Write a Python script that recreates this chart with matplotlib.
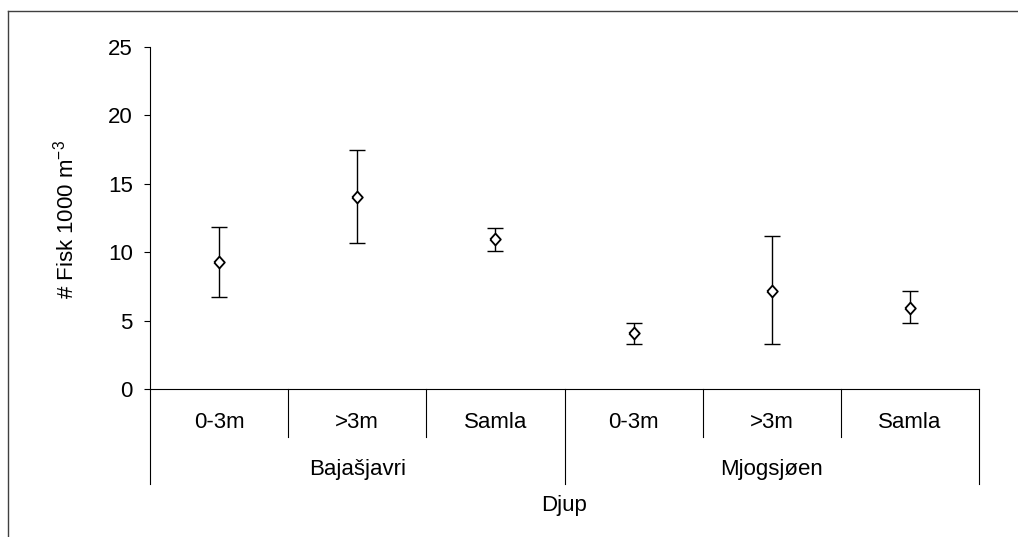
import matplotlib
matplotlib.use("Agg")
import matplotlib.pyplot as plt
from matplotlib.lines import Line2D

plt.rcParams['font.family'] = ['Liberation Sans', 'DejaVu Sans']
plt.rcParams['mathtext.default'] = 'regular'

sub_labels = ["0-3m", ">3m", "Samla", "0-3m", ">3m", "Samla"]
groups = ["Bajašjavri", "Mjogsjøen"]
x_title = "Djup"
y_title = "# Fisk 1000 m$^{-3}$"
means = [9.3, 14.0, 11.0, 4.1, 7.2, 5.95]
upper = [11.85, 17.45, 11.8, 4.8, 11.2, 7.2]
lower = [6.7, 10.7, 10.1, 3.3, 3.3, 4.8]

W, H = 1018, 537
FS = 16
fig = plt.figure(figsize=(W / 100, H / 100), dpi=100)
ax = fig.add_axes([150 / W, 1 - 389 / H, (979 - 150) / W, (389 - 47) / H])

n = len(means)
xs = [i + 0.5 for i in range(n)]
yerr = [[m - l for m, l in zip(means, lower)], [u - m for m, u in zip(means, upper)]]
diamond = [(-0.9, 0), (0, 1), (0.9, 0), (0, -1), (-0.9, 0)]
ax.errorbar(xs, means, yerr=yerr, fmt='none', ecolor='black', elinewidth=1.0,
            capsize=6, capthick=1.0, zorder=2)
ax.plot(xs, means, linestyle='none', marker=diamond, mfc='white', mec='black',
        mew=1.3, ms=8.5, zorder=3)

ax.set_xlim(0, n)
ax.set_ylim(0, 25)
ax.set_yticks([0, 5, 10, 15, 20, 25])
ax.tick_params(axis='y', direction='out', length=4.3, width=0.8, labelsize=FS, pad=8)
ax.set_xticks([])
for s in ['top', 'right']:
    ax.spines[s].set_visible(False)
ax.spines['left'].set_linewidth(0.8)
ax.spines['bottom'].set_linewidth(0.8)

tr = ax.get_xaxis_transform()
sub_bottom = (389 - 437) / 342
grp_bottom = (389 - 484) / 342
for i in range(n + 1):
    if i % 3 == 0:
        ax.plot([i, i], [0, grp_bottom], transform=tr, color='black', lw=0.8, clip_on=False)
    else:
        ax.plot([i, i], [0, sub_bottom], transform=tr, color='black', lw=0.8, clip_on=False)

for x, lab in zip(xs, sub_labels):
    ax.text(x, (389 - 423) / 342, lab, transform=tr, ha='center', va='center', fontsize=FS)
for g, lab in enumerate(groups):
    ax.text(g * 3 + 1.5, (389 - 469) / 342, lab, transform=tr, ha='center', va='center', fontsize=FS)
ax.text(n / 2, (389 - 505) / 342, x_title, transform=tr, ha='center', va='center', fontsize=FS)

fig.text(66 / W, 1 - 220 / H, y_title, rotation=90, ha='center', va='center', fontsize=FS)

# outer chart frame (partially cropped)
fig.add_artist(Line2D([8 / W, 1], [1 - 11 / H, 1 - 11 / H], transform=fig.transFigure, color='#404040', lw=1.0))
fig.add_artist(Line2D([8 / W, 8 / W], [0, 1 - 11 / H], transform=fig.transFigure, color='#404040', lw=1.0))

fig.savefig("out.png", dpi=100)
